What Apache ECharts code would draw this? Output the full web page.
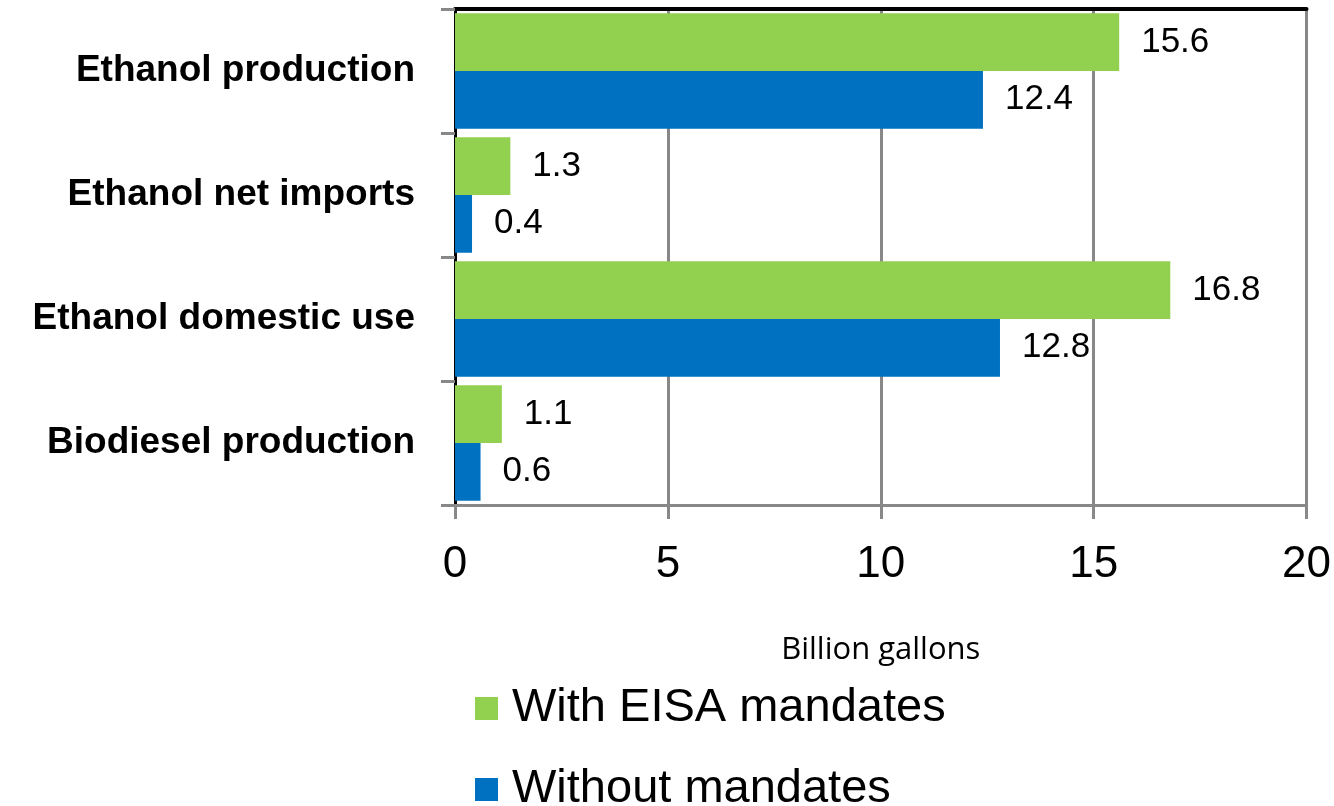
<!DOCTYPE html>
<html>
<head>
<meta charset="utf-8">
<script src="https://cdn.jsdelivr.net/npm/echarts@6/dist/echarts.min.js"></script>
<style>
    html, body { margin: 0; padding: 0; background: #fff; }
    #chart { width: 1334px; height: 806px; }
</style>
</head>
<body>
<div id="chart"></div>
<script>
const categories = ["Ethanol production", "Ethanol net imports", "Ethanol domestic use", "Biodiesel production"];
const with_mandates = [15.6, 1.3, 16.8, 1.1];
const without_mandates = [12.4, 0.4, 12.8, 0.6];
const x_ticks = [0, 5, 10, 15, 20];

const echart_instance = echarts.init(document.getElementById("chart"));

const bar_label = {
    show: true,
    position: "right",
    distance: 22,
    color: "#000",
    fontSize: 35,
    fontFamily: "Liberation Sans, Arial",
};

const config = {
    animation: false,
    textStyle: {
        fontFamily: "Liberation Sans, Arial",
    },
    grid: {
        left: 455,
        right: 25,
        top: 9,
        bottom: 301,
    },
    legend: {
        orient: "vertical",
        left: 470,
        top: 680,
        height: 200,
        itemWidth: 23,
        itemHeight: 23,
        itemGap: 34,
        icon: "rect",
        textStyle: {
            fontSize: 47,
            color: "#000",
            padding: [0, 0, 0, 9],
        },
        data: ["With EISA mandates", "Without mandates"],
    },
    xAxis: [
        {
            type: "value",
            min: x_ticks[0],
            max: x_ticks[x_ticks.length - 1],
            interval: 5,
            name: "Billion gallons",
            nameLocation: "middle",
            nameGap: 130,
            nameTextStyle: {
                fontSize: 31,
                fontFamily: "Open Sans",
                color: "#000",
            },
            axisLine: {
                show: true,
                lineStyle: { color: "#888", width: 3 },
            },
            axisTick: {
                show: true,
                length: 14,
                lineStyle: { color: "#888", width: 3 },
            },
            axisLabel: {
                fontSize: 44,
                color: "#000",
                margin: 38,
            },
            splitLine: {
                show: true,
                lineStyle: { color: "#888", width: 3 },
            },
        },
        {
            type: "value",
            position: "top",
            min: 0,
            max: 20,
            axisLine: {
                show: true,
                lineStyle: { color: "#000", width: 4 },
            },
            axisTick: { show: false },
            axisLabel: { show: false },
            splitLine: { show: false },
        },
    ],
    yAxis: [
        {
            type: "category",
            inverse: true,
            data: categories,
            axisLine: {
                show: true,
                lineStyle: { color: "#888", width: 2 },
            },
            axisTick: {
                show: true,
                length: 14,
                lineStyle: { color: "#888", width: 3 },
            },
            axisLabel: {
                fontSize: 37,
                fontWeight: "bold",
                color: "#000",
                margin: 40,
            },
        },
        {
            type: "category",
            position: "right",
            inverse: true,
            data: categories,
            axisLine: {
                show: true,
                lineStyle: { color: "#000", width: 3 },
            },
            axisTick: { show: false },
            axisLabel: { show: false },
        },
    ],
    series: [
        {
            name: "With EISA mandates",
            type: "bar",
            data: with_mandates,
            barGap: "0%",
            barCategoryGap: "7%",
            itemStyle: { color: "#92D050" },
            label: bar_label,
        },
        {
            name: "Without mandates",
            type: "bar",
            data: without_mandates,
            barGap: "0%",
            barCategoryGap: "7%",
            itemStyle: { color: "#0070C0" },
            label: bar_label,
        },
    ],
};

echart_instance.setOption(config);
</script>
</body>
</html>
